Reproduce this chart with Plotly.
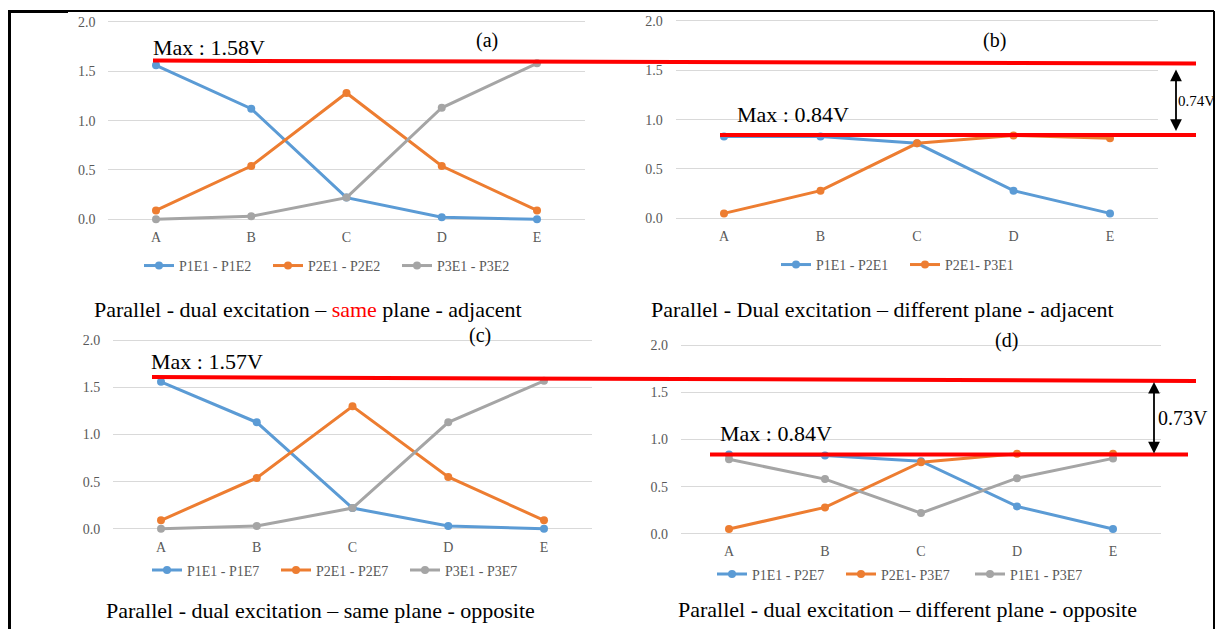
import plotly.graph_objects as go

# the page shows the figure offset by the default 8px body margin;
# keep the figure small enough that the page never overflows the window
OFF = 8
W, H = 1223 - 2 * OFF, 640 - 2 * OFF

categories = ["A", "B", "C", "D", "E"]
y_ticks = [0.0, 0.5, 1.0, 1.5, 2.0]

a_names = ["P1E1 - P1E2", "P2E1 - P2E2", "P3E1 - P3E2"]
a_s1 = [1.56, 1.12, 0.22, 0.02, 0.0]
a_s2 = [0.09, 0.54, 1.28, 0.54, 0.09]
a_s3 = [0.0, 0.03, 0.22, 1.13, 1.58]

b_names = ["P1E1 - P2E1", "P2E1- P3E1"]
b_s1 = [0.83, 0.83, 0.76, 0.28, 0.05]
b_s2 = [0.05, 0.28, 0.76, 0.84, 0.81]

c_names = ["P1E1 - P1E7", "P2E1 - P2E7", "P3E1 - P3E7"]
c_s1 = [1.56, 1.13, 0.22, 0.03, 0.0]
c_s2 = [0.09, 0.54, 1.30, 0.55, 0.09]
c_s3 = [0.0, 0.03, 0.22, 1.13, 1.57]

d_names = ["P1E1 - P2E7", "P2E1- P3E7", "P1E1 - P3E7"]
d_s1 = [0.84, 0.83, 0.77, 0.29, 0.05]
d_s2 = [0.05, 0.28, 0.76, 0.85, 0.85]
d_s3 = [0.79, 0.58, 0.22, 0.59, 0.80]

captions = [
    "Parallel - dual excitation – <span style='color:#FF0000'>same</span> plane - adjacent",
    "Parallel - Dual excitation – different plane - adjacent",
    "Parallel - dual excitation – same plane - opposite",
    "Parallel - dual excitation – different plane - opposite",
]
panel_labels = ["(a)", "(b)", "(c)", "(d)"]
max_labels = ["Max : 1.58V", "Max : 0.84V", "Max : 1.57V", "Max : 0.84V"]
diff_labels = ["0.74V", "0.73V"]

COLORS = ["#5B9BD5", "#ED7D31", "#A5A5A5"]
SERIF = "Liberation Serif, Times New Roman, serif"
GREY = "#595959"


def px(x):
    return (x - OFF) / W


def py(y):
    return 1 - (y - OFF) / H


# panel geometry in page pixels: (first category x, last category x, y of 0.0, y of 2.0)
geo = [
    (156, 537, 219, 20),
    (724, 1110, 218, 19),
    (161, 544, 531, 341),
    (729, 1113, 536, 346),
]
YPAD = 0.05

fig = go.Figure()

panels = [
    (a_names, [a_s1, a_s2, a_s3]),
    (b_names, [b_s1, b_s2]),
    (c_names, [c_s1, c_s2, c_s3]),
    (d_names, [d_s1, d_s2, d_s3]),
]

legend_pos = [(144, 266), (781, 265), (152, 573), (717, 577)]

layout_axes = {}
for i, ((names, series), (c0, c4, y0, y2)) in enumerate(zip(panels, geo)):
    n = i + 1
    xa = "x" if n == 1 else f"x{n}"
    ya = "y" if n == 1 else f"y{n}"
    lg = "legend" if n == 1 else f"legend{n}"
    for k, (nm, vals) in enumerate(zip(names, series)):
        fig.add_trace(go.Scatter(
            x=categories, y=vals, name=nm, mode="lines+markers",
            line=dict(color=COLORS[k], width=3),
            marker=dict(color=COLORS[k], size=8),
            xaxis=xa, yaxis=ya, legend=lg, cliponaxis=False,
        ))
    d = (c4 - c0) / 4
    left, right = c0 - 0.5 * d, c4 + 0.5 * d
    s = (y0 - y2) / 2
    bottom, top = y0 + YPAD * s, y2 - YPAD * s
    xkey = "xaxis" if n == 1 else f"xaxis{n}"
    ykey = "yaxis" if n == 1 else f"yaxis{n}"
    layout_axes[xkey] = dict(
        domain=[px(left), px(right)], anchor=ya, type="category",
        categoryorder="array", categoryarray=categories,
        range=[-0.5, 4.5], showgrid=False, zeroline=False, showline=False,
        ticks="", tickfont=dict(family=SERIF, size=14, color=GREY),
        ticklabelstandoff=3,
    )
    layout_axes[ykey] = dict(
        domain=[py(bottom), py(top)], anchor=xa, range=[-YPAD, 2 + YPAD],
        tickvals=y_ticks, ticktext=[f"{v:.1f}" for v in y_ticks],
        showgrid=True, gridcolor="#D9D9D9", gridwidth=1,
        zeroline=False, showline=False, ticks="",
        tickfont=dict(family=SERIF, size=14, color=GREY),
        ticklabelstandoff=12,
    )
    lx, ly = legend_pos[i]
    layout_axes[lg] = dict(
        orientation="h", x=px(lx - 5), y=py(ly), xanchor="left", yanchor="middle",
        font=dict(family=SERIF, size=14, color=GREY), bgcolor="rgba(0,0,0,0)",
        entrywidth=84, entrywidthmode="pixels", itemclick=False,
    )

fig.update_layout(**layout_axes)

shapes = []
# frame
RIGHT = OFF + W - 1
shapes.append(dict(type="line", xref="paper", yref="paper", x0=px(9.5), x1=px(9.5), y0=py(9), y1=py(OFF + H), line=dict(color="black", width=3)))
shapes.append(dict(type="line", xref="paper", yref="paper", x0=px(8), x1=px(RIGHT), y0=py(9), y1=py(9), line=dict(color="black", width=2)))
shapes.append(dict(type="line", xref="paper", yref="paper", x0=px(8), x1=px(68), y0=py(9.5), y1=py(9.5), line=dict(color="black", width=3)))
shapes.append(dict(type="line", xref="paper", yref="paper", x0=px(RIGHT), x1=px(RIGHT), y0=py(9), y1=py(OFF + H), line=dict(color="black", width=2)))
# red max lines
red = dict(color="#FF0000", width=4)
shapes.append(dict(type="line", xref="paper", yref="paper", x0=px(153), y0=py(59), x1=px(1196), y1=py(62), line=red))
shapes.append(dict(type="line", xref="paper", yref="paper", x0=px(720), y0=py(134), x1=px(1196), y1=py(134), line=red))
shapes.append(dict(type="line", xref="paper", yref="paper", x0=px(152), y0=py(378), x1=px(1196), y1=py(382), line=red))
shapes.append(dict(type="line", xref="paper", yref="paper", x0=px(710), y0=py(456), x1=px(1188), y1=py(456), line=red))
fig.update_layout(shapes=shapes)

ann = []
cap_pos = [(308, 310), (882, 310), (320, 613), (907, 612)]
for t, (x, y) in zip(captions, cap_pos):
    ann.append(dict(text=t, x=px(x), y=py(y), xref="paper", yref="paper", xanchor="center", yanchor="middle",
                    showarrow=False, font=dict(family=SERIF, size=22, color="black")))
lab_pos = [(487, 39), (994, 39), (480, 336), (1006, 341)]
for t, (x, y) in zip(panel_labels, lab_pos):
    ann.append(dict(text=t, x=px(x), y=py(y), xref="paper", yref="paper", xanchor="center", yanchor="middle",
                    showarrow=False, font=dict(family=SERIF, size=20, color="black")))
max_pos = [(151, 46), (735, 113), (149, 362), (718, 435)]
for t, (x, y) in zip(max_labels, max_pos):
    ann.append(dict(text=t, x=px(x), y=py(y), xref="paper", yref="paper", xanchor="left", yanchor="middle",
                    showarrow=False, font=dict(family=SERIF, size=22, color="black")))
diff_pos = [(1177, 100, 15), (1157, 419, 20)]
for t, (x, y, fs) in zip(diff_labels, diff_pos):
    ann.append(dict(text=t, x=px(x), y=py(y), xref="paper", yref="paper", xanchor="left", yanchor="middle",
                    showarrow=False, borderpad=0, font=dict(family=SERIF, size=fs, color="black")))
# double-headed arrows (tail given as pixel offset from head)
for (x, ytop, ybot) in [(1176, 67, 130), (1154, 382, 455)]:
    ann.append(dict(text="", x=px(x), y=py(ybot), ax=0, ay=-(ybot - ytop), xref="paper", yref="paper",
                    showarrow=True, arrowhead=2, arrowside="end+start",
                    arrowsize=1.3, arrowwidth=1.8, arrowcolor="black", standoff=0, startstandoff=0))
fig.update_layout(annotations=ann)

fig.update_layout(width=W, height=H, margin=dict(l=0, r=0, t=0, b=0),
                  paper_bgcolor="white", plot_bgcolor="white", showlegend=True)

fig.write_html("out.html")
